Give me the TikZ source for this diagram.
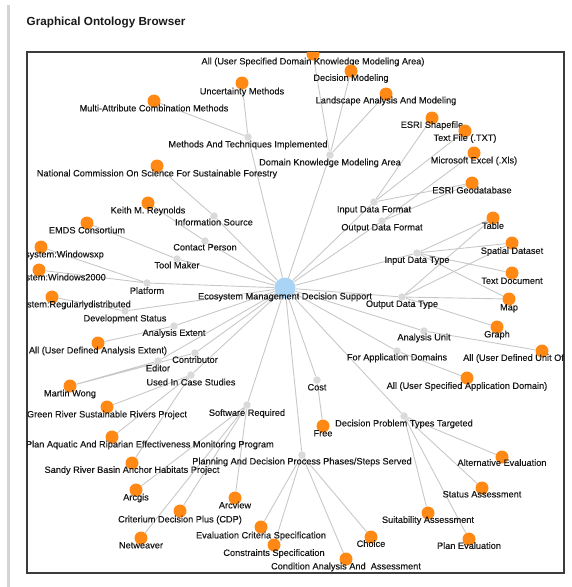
\documentclass[tikz,border=0pt]{standalone}
\usepackage{fontspec}
\setmainfont{Liberation Sans}
\newfontfamily\lblfont{Liberation Sans}[FakeBold=0.35]
\usepackage{xcolor}
\usetikzlibrary{backgrounds}

\definecolor{hubblue}{RGB}{170,212,245}
\definecolor{propgray}{RGB}{218,218,218}
\definecolor{valorange}{RGB}{255,137,20}
\definecolor{edgegray}{RGB}{200,200,200}
\definecolor{lbltext}{RGB}{24,24,24}
\definecolor{framegray}{RGB}{60,60,60}
\definecolor{bargray}{RGB}{212,212,212}

\begin{document}
\begin{tikzpicture}[
    x=1pt, y=-1pt,
    hubnode/.style={circle, fill=hubblue, minimum size=21pt, inner sep=0pt},
    propnode/.style={circle, fill=propgray, minimum size=7.5pt, inner sep=0pt},
    valnode/.style={circle, fill=valorange, minimum size=13pt, inner sep=0pt},
    lbl/.style={inner sep=0pt, text height=6.6pt, text depth=1.8pt, text=lbltext, font=\lblfont\fontsize{9.2}{10}\selectfont},
    edge/.style={draw=edgegray, line width=0.9pt}
]

\useasboundingbox (0,0) rectangle (571,587);

% Page title, side bar and frame
\node[anchor=west, inner sep=0pt, text=black!90, font=\bfseries\fontsize{11.7}{13}\selectfont] (title) at (26.5,22) {Graphical Ontology Browser};
\draw[line width=3pt, bargray] (8.5,5) -- (8.5,587);
\draw[line width=1.2pt, framegray] (27,52) rectangle (564,573);

\begin{scope}
\clip (27,52) rectangle (564,573);

% Root node
\node[hubnode] (ems) at (285,288) {};
\node[lbl] (ems-l) at ([yshift=-9pt]ems.center) {Ecosystem Management Decision Support};

% Property nodes
\node[propnode] (mti) at (248,137) {};
\node[lbl] (mti-l) at ([yshift=-8pt]mti.center) {Methods And Techniques Implemented};
\node[propnode] (dkma) at (330,155) {};
\node[lbl] (dkma-l) at ([yshift=-8pt]dkma.center) {Domain Knowledge Modeling Area};
\node[propnode] (idf) at (374,202) {};
\node[lbl] (idf-l) at ([yshift=-8pt]idf.center) {Input Data Format};
\node[propnode] (odf) at (382,221) {};
\node[lbl] (odf-l) at ([yshift=-7pt]odf.center) {Output Data Format};
\node[propnode] (idt) at (417,253) {};
\node[lbl] (idt-l) at ([yshift=-7.5pt]idt.center) {Input Data Type};
\node[propnode] (odt) at (402,297) {};
\node[lbl] (odt-l) at ([yshift=-7.5pt]odt.center) {Output Data Type};
\node[propnode] (au) at (424,331) {};
\node[lbl] (au-l) at ([yshift=-7pt]au.center) {Analysis Unit};
\node[propnode] (fad) at (397,351) {};
\node[lbl] (fad-l) at ([yshift=-7pt]fad.center) {For Application Domains};
\node[propnode] (cost) at (317,380) {};
\node[lbl] (cost-l) at ([yshift=-8pt]cost.center) {Cost};
\node[propnode] (dptt) at (404,416) {};
\node[lbl] (dptt-l) at ([yshift=-8pt]dptt.center) {Decision Problem Types Targeted};
\node[propnode] (pdp) at (302,455) {};
\node[lbl] (pdp-l) at ([yshift=-7pt]pdp.center) {Planning And Decision Process Phases/Steps Served};
\node[propnode] (sr) at (247,405) {};
\node[lbl] (sr-l) at ([yshift=-8.5pt]sr.center) {Software Required};
\node[propnode] (ucs) at (191,375) {};
\node[lbl] (ucs-l) at ([yshift=-8pt]ucs.center) {Used In Case Studies};
\node[propnode] (contr) at (195,353) {};
\node[lbl] (contr-l) at ([yshift=-7.5pt]contr.center) {Contributor};
\node[propnode] (editor) at (158,361) {};
\node[lbl] (editor-l) at ([yshift=-8pt]editor.center) {Editor};
\node[propnode] (ae) at (174,326) {};
\node[lbl] (ae-l) at ([yshift=-7.5pt]ae.center) {Analysis Extent};
\node[propnode] (ds) at (125,311) {};
\node[lbl] (ds-l) at ([yshift=-8pt]ds.center) {Development Status};
\node[propnode] (platf) at (147,283) {};
\node[lbl] (platf-l) at ([yshift=-8.5pt]platf.center) {Platform};
\node[propnode] (tm) at (177,259) {};
\node[lbl] (tm-l) at ([yshift=-7pt]tm.center) {Tool Maker};
\node[propnode] (cp) at (205,241) {};
\node[lbl] (cp-l) at ([yshift=-7pt]cp.center) {Contact Person};
\node[propnode] (is) at (214,216) {};
\node[lbl] (is-l) at ([yshift=-7pt]is.center) {Information Source};

% Value nodes
\node[valnode] (udk) at (313,54) {};
\node[lbl] (udk-l) at ([yshift=-8pt]udk.center) {All (User Specified Domain Knowledge Modeling Area)};
\node[valnode] (dm) at (351,71) {};
\node[lbl] (dm-l) at ([yshift=-7.5pt]dm.center) {Decision Modeling};
\node[valnode] (lam) at (386,94) {};
\node[lbl] (lam-l) at ([yshift=-7pt]lam.center) {Landscape Analysis And Modeling};
\node[valnode] (um) at (242,83) {};
\node[lbl] (um-l) at ([yshift=-9pt]um.center) {Uncertainty Methods};
\node[valnode] (mac) at (154,101) {};
\node[lbl] (mac-l) at ([yshift=-8pt]mac.center) {Multi-Attribute Combination Methods};
\node[valnode] (shp) at (432,118) {};
\node[lbl] (shp-l) at ([yshift=-7.5pt]shp.center) {ESRI Shapefile};
\node[valnode] (txt) at (465,131) {};
\node[lbl] (txt-l) at ([yshift=-7.5pt]txt.center) {Text File (.TXT)};
\node[valnode] (xls) at (474,153) {};
\node[lbl] (xls-l) at ([yshift=-8pt]xls.center) {Microsoft Excel (.Xls)};
\node[valnode] (gdb) at (472,183) {};
\node[lbl] (gdb-l) at ([yshift=-8pt]gdb.center) {ESRI Geodatabase};
\node[valnode] (ncs) at (157,166) {};
\node[lbl] (ncs-l) at ([yshift=-8pt]ncs.center) {National Commission On Science For Sustainable Forestry};
\node[valnode] (kmr) at (148,203) {};
\node[lbl] (kmr-l) at ([yshift=-8pt]kmr.center) {Keith M. Reynolds};
\node[valnode] (emds) at (87,223) {};
\node[lbl] (emds-l) at ([yshift=-8pt]emds.center) {EMDS Consortium};
\node[valnode] (wxp) at (41,247) {};
\node[lbl, anchor=east] (wxp-l) at (104,255) {system:Windowsxp};
\node[valnode] (w2k) at (39,270) {};
\node[lbl, anchor=east] (w2k-l) at (106,278) {stem:Windows2000};
\node[valnode] (regd) at (52,297) {};
\node[lbl, anchor=east] (regd-l) at (131,305) {stem:Regularlydistributed};
\node[valnode] (udae) at (98,343) {};
\node[lbl] (udae-l) at ([yshift=-8pt]udae.center) {All (User Defined Analysis Extent)};
\node[valnode] (mw) at (70,386) {};
\node[lbl] (mw-l) at ([yshift=-8pt]mw.center) {Martin Wong};
\node[valnode] (grsr) at (107,407) {};
\node[lbl] (grsr-l) at ([yshift=-8pt]grsr.center) {Green River Sustainable Rivers Project};
\node[valnode] (aremp) at (112,437) {};
\node[lbl, anchor=east] (aremp-l) at (274,445) {Plan Aquatic And Riparian Effectiveness Monitoring Program};
\node[valnode] (sandy) at (132,463) {};
\node[lbl] (sandy-l) at ([yshift=-7.5pt]sandy.center) {Sandy River Basin Anchor Habitats Project};
\node[valnode] (arcgis) at (136,490) {};
\node[lbl] (arcgis-l) at ([yshift=-8pt]arcgis.center) {Arcgis};
\node[valnode] (arcview) at (235,498) {};
\node[lbl] (arcview-l) at ([yshift=-8pt]arcview.center) {Arcview};
\node[valnode] (cdp) at (180,511) {};
\node[lbl] (cdp-l) at ([yshift=-9pt]cdp.center) {Criterium Decision Plus (CDP)};
\node[valnode] (netw) at (141,538) {};
\node[lbl] (netw-l) at ([yshift=-8pt]netw.center) {Netweaver};
\node[valnode] (ecs) at (261,527) {};
\node[lbl] (ecs-l) at ([yshift=-9pt]ecs.center) {Evaluation Criteria Specification};
\node[valnode] (cs) at (274,545) {};
\node[lbl] (cs-l) at ([yshift=-8.5pt]cs.center) {Constraints Specification};
\node[valnode] (caa) at (346,559) {};
\node[lbl] (caa-l) at ([yshift=-8pt]caa.center) {Condition Analysis And\ \ Assessment};
\node[valnode] (choice) at (371,537) {};
\node[lbl] (choice-l) at ([yshift=-7.5pt]choice.center) {Choice};
\node[valnode] (free) at (323,426) {};
\node[lbl] (free-l) at ([yshift=-8pt]free.center) {Free};
\node[valnode] (usad) at (467,378) {};
\node[lbl] (usad-l) at ([yshift=-8.5pt]usad.center) {All (User Specified Application Domain)};
\node[valnode] (altev) at (502,457) {};
\node[lbl] (altev-l) at ([yshift=-6.5pt]altev.center) {Alternative Evaluation};
\node[valnode] (stas) at (482,488) {};
\node[lbl] (stas-l) at ([yshift=-7pt]stas.center) {Status Assessment};
\node[valnode] (suit) at (428,513) {};
\node[lbl] (suit-l) at ([yshift=-7.5pt]suit.center) {Suitability Assessment};
\node[valnode] (planev) at (469,539) {};
\node[lbl] (planev-l) at ([yshift=-7.5pt]planev.center) {Plan Evaluation};
\node[valnode] (table) at (493,218) {};
\node[lbl] (table-l) at ([yshift=-8.5pt]table.center) {Table};
\node[valnode] (spd) at (512,243) {};
\node[lbl] (spd-l) at ([yshift=-8.5pt]spd.center) {Spatial Dataset};
\node[valnode] (tdoc) at (512,273) {};
\node[lbl] (tdoc-l) at ([yshift=-8.5pt]tdoc.center) {Text Document};
\node[valnode] (map) at (509,299) {};
\node[lbl] (map-l) at ([yshift=-9pt]map.center) {Map};
\node[valnode] (graph) at (497,327) {};
\node[lbl] (graph-l) at ([yshift=-8pt]graph.center) {Graph};
\node[valnode] (udu) at (542,351) {};
\node[lbl, anchor=west] (udu-l) at (463,358.5) {All (User Defined Unit Of};
\end{scope}

% Edges
\begin{scope}[on background layer]
\draw[edge] (ems) -- (mti) (ems) -- (dkma) (ems) -- (idf) (ems) -- (odf) (ems) -- (idt) (ems) -- (odt) (ems) -- (au);
\draw[edge] (ems) -- (fad) (ems) -- (cost) (ems) -- (dptt) (ems) -- (pdp) (ems) -- (sr) (ems) -- (ucs) (ems) -- (contr);
\draw[edge] (ems) -- (editor) (ems) -- (ae) (ems) -- (ds) (ems) -- (platf) (ems) -- (tm) (ems) -- (cp) (ems) -- (is);
\draw[edge] (mti) -- (um) (mti) -- (mac);
\draw[edge] (dkma) -- (udk) (dkma) -- (dm) (dkma) -- (lam);
\draw[edge] (idf) -- (shp) (idf) -- (txt) (idf) -- (gdb);
\draw[edge] (odf) -- (xls) (odf) -- (gdb);
\draw[edge] (idt) -- (table) (idt) -- (spd) (idt) -- (tdoc) (idt) -- (map);
\draw[edge] (odt) -- (table) (odt) -- (spd) (odt) -- (map) (odt) -- (graph);
\draw[edge] (au) -- (udu);
\draw[edge] (fad) -- (usad);
\draw[edge] (cost) -- (free);
\draw[edge] (dptt) -- (altev) (dptt) -- (stas) (dptt) -- (suit) (dptt) -- (planev);
\draw[edge] (pdp) -- (ecs) (pdp) -- (cs) (pdp) -- (caa) (pdp) -- (choice);
\draw[edge] (sr) -- (arcgis) (sr) -- (arcview) (sr) -- (cdp) (sr) -- (netw);
\draw[edge] (ucs) -- (grsr) (ucs) -- (aremp) (ucs) -- (sandy);
\draw[edge] (contr) -- (mw) (editor) -- (mw);
\draw[edge] (ae) -- (udae);
\draw[edge] (ds) -- (regd);
\draw[edge] (platf) -- (wxp) (platf) -- (w2k);
\draw[edge] (tm) -- (emds);
\draw[edge] (cp) -- (kmr);
\draw[edge] (is) -- (ncs);
\end{scope}

\end{tikzpicture}
\end{document}
